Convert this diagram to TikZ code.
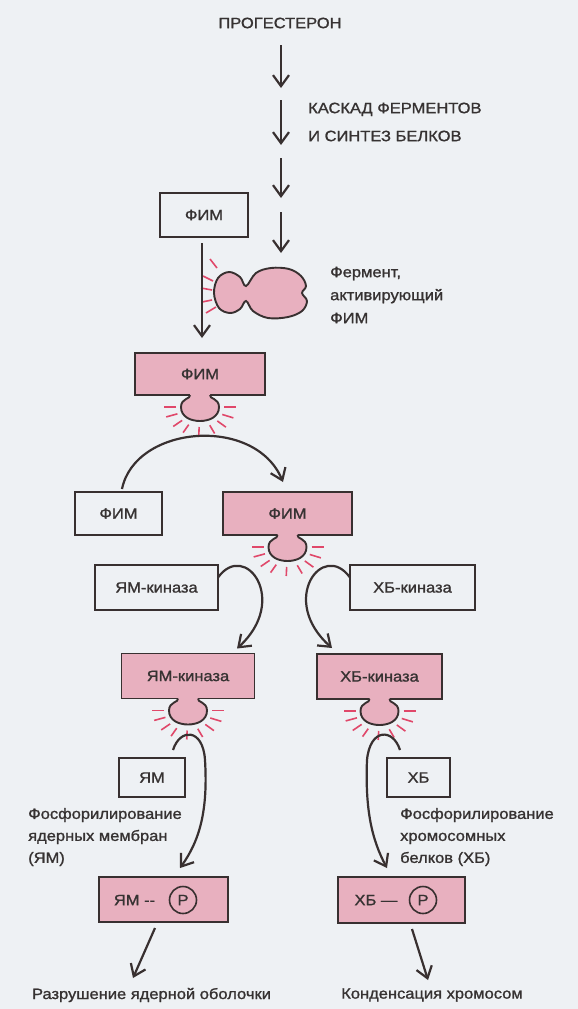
\documentclass[tikz,border=0pt]{standalone}
\usepackage{fontspec}
\setmainfont{Liberation Sans}[FakeStretch=1.1,FakeBold=1.2]
\usetikzlibrary{arrows.meta}
\definecolor{bgc}{HTML}{EEF1F4}
\definecolor{pinkc}{HTML}{E8B0BF}
\definecolor{linec}{HTML}{383030}
\definecolor{textc}{HTML}{363232}
\definecolor{rayc}{HTML}{E0486A}
\newcommand\lblfont{\fontsize{15}{22}\selectfont}
\begin{document}
\begin{tikzpicture}[x=1pt,y=-1pt,
  box/.style={draw=linec,line width=1.9pt,inner sep=0pt,outer sep=0pt,text=textc,font=\lblfont},
  pbox/.style={box,fill=pinkc},
  arr/.style={draw=linec,line width=2.2pt,-{Straight Barb[length=11pt,width=16pt]}},
  txt/.style={text=textc,inner sep=0pt,font=\lblfont},
  ray/.style={draw=rayc,line width=1.6pt},
  pcirc/.style={circle,draw=linec,line width=1.6pt,minimum size=27pt,inner sep=0pt,text=textc,font=\lblfont},
  knobpic/.pic={
    \fill[pinkc] (-10,-1.5) -- (-10,0) .. controls (-9,4) and (-19,3) .. (-19,12)
      .. controls (-19,22) and (-9,26) .. (0,26) .. controls (9,26) and (19,22) .. (19,12)
      .. controls (19,3) and (9,4) .. (10,0) -- (10,-1.5) -- cycle;
    \draw[linec,line width=1.9pt] (-10,0) .. controls (-9,4) and (-19,3) .. (-19,12)
      .. controls (-19,22) and (-9,26) .. (0,26) .. controls (9,26) and (19,22) .. (19,12)
      .. controls (19,3) and (9,4) .. (10,0);
    \foreach \a in {180,160,138,118,92,66,44,22,0}
      \draw[ray,shift={(0,12)}] (\a:24 and 20) -- (\a:36 and 29);
  }]
\useasboundingbox (0,0) rectangle (578,1009);
\fill[bgc] (0,0) rectangle (578,1009);

% top texts
\node[txt] (prog) at (280,23) {ПРОГЕСТЕРОН};
\node[txt,anchor=west,align=left,font=\fontsize{15}{28}\selectfont] (casc) at (308,122)
  {КАСКАД ФЕРМЕНТОВ\\И СИНТЕЗ БЕЛКОВ};

% cascade arrows
\coordinate (v1) at (281,45);  \coordinate (v2) at (281,88);
\coordinate (v3) at (281,100); \coordinate (v4) at (281,145);
\coordinate (v5) at (281,158); \coordinate (v6) at (281,198);
\coordinate (v7) at (281,212); \coordinate (v8) at (281,253);
\draw[arr] (v1) -- (v2);
\draw[arr] (v3) -- (v4);
\draw[arr] (v5) -- (v6);
\draw[arr] (v7) -- (v8);

% FIM inactive
\node[box,minimum width=88pt,minimum height=44pt] (fim1) at (204,215) {ФИМ};

% enzyme blob
\coordinate (enz) at (262,292);
\filldraw[fill=pinkc,draw=linec,line width=1.9pt] plot[smooth cycle,tension=0.6] coordinates {
  (246,286) (256,273) (271,268) (289,269) (301,276) (306,286) (302,293) (307,301)
  (302,311) (288,317) (268,318) (253,311) (246,301) (240,309) (230,313) (219,308)
  (214,293) (218,278) (229,272) (240,277)};
\draw[ray] (217,268) -- (210,259);
\draw[ray] (213,281) -- (203,276);
\draw[ray] (212,290) -- (201,288);
\draw[ray] (212,300) -- (202,302);
\draw[ray] (216,307) -- (206,313);
\node[txt,anchor=west,align=left,font=\fontsize{15}{23}\selectfont] (enzl) at (330,295)
  {Фермент,\\активирующий\\ФИМ};

% FIM active
\node[pbox,minimum width=130pt,minimum height=42pt] (fim2) at (200,374) {ФИМ};
\pic at (fim2.south) {knobpic};
\draw[arr] ([xshift=-2pt,yshift=-6pt]fim1.south) -- ([xshift=2pt,yshift=15pt]fim2.north);

% second level
\node[box,minimum width=87pt,minimum height=43pt] (fimL) at (118.5,513.5) {ФИМ};
\node[pbox,minimum width=129pt,minimum height=43pt] (fimR) at (287.5,513.5) {ФИМ};
\pic at (fimR.south) {knobpic};
\draw[arr] ([xshift=3.5pt,yshift=3pt]fimL.north) .. controls (135,425) and (255,415) ..
  ([xshift=-4.5pt,yshift=10pt]fimR.north);

% kinases
\node[box,minimum width=123pt,minimum height=45pt] (kinL) at (156.5,587.5) {ЯМ-киназа};
\node[box,minimum width=125pt,minimum height=45pt] (kinR) at (412.5,587.5) {ХБ-киназа};
\node[pbox,minimum width=133pt,minimum height=45pt] (kinLp) at (188,676) {ЯМ-киназа};
\node[pbox,minimum width=125pt,minimum height=45pt] (kinRp) at (379.5,676.5) {ХБ-киназа};
\pic at (kinLp.south) {knobpic};
\pic at (kinRp.south) {knobpic};
\draw[arr] ([yshift=10pt]kinL.east) .. controls (245,540) and (290,600) ..
  ([xshift=49pt,yshift=5pt]kinLp.north);
\draw[arr] ([yshift=10pt]kinR.west) .. controls (323,540) and (278,600) ..
  ([xshift=-47.5pt,yshift=6pt]kinRp.north);

% substrates
\node[box,minimum width=66pt,minimum height=39pt] (ym) at (152,777.5) {ЯМ};
\node[box,minimum width=63pt,minimum height=39pt] (xb) at (418.5,777.5) {ХБ};

% phosphorylated products
\node[pbox,minimum width=129pt,minimum height=45pt] (pL) at (163.5,899.5) {};
\node[txt] (pLt) at (134.5,900) {ЯМ -{}-};
\node[pcirc] (pLc) at (183,900) {P};
\node[pbox,minimum width=127pt,minimum height=46pt] (pR) at (401.5,900) {};
\node[txt] (pRt) at (376,900) {ХБ —};
\node[pcirc] (pRc) at (423,900) {P};

\draw[arr] ([xshift=-12pt,yshift=8pt]ym.north east) .. controls (180,728) and (203,728) .. (205,760)
  .. controls (208,810) and (200,840) .. ([xshift=16.5pt,yshift=9pt]pL.north);
\draw[arr] ([xshift=13pt,yshift=8pt]xb.north west) .. controls (393,728) and (370,728) .. (367,760)
  .. controls (365,810) and (372,840) .. ([xshift=-14.5pt,yshift=9pt]pR.north);

\node[txt,anchor=west,align=left] (phL) at (28,837)
  {Фосфорилирование\\ядерных мембран\\(ЯМ)};
\node[txt,anchor=west,align=left] (phR) at (400,837)
  {Фосфорилирование\\хромосомных\\белков (ХБ)};

% outcomes
\node[txt] (endL) at (151.5,995) {Разрушение ядерной оболочки};
\node[txt] (endR) at (432,995) {Конденсация хромосом};
\coordinate (tipL) at (133,978);
\coordinate (tipR) at (428,980);
\draw[arr] ([xshift=-8.5pt,yshift=-6pt]pL.south) -- (tipL);
\draw[arr] ([xshift=10.5pt,yshift=-6pt]pR.south) -- (tipR);
\end{tikzpicture}
\end{document}
